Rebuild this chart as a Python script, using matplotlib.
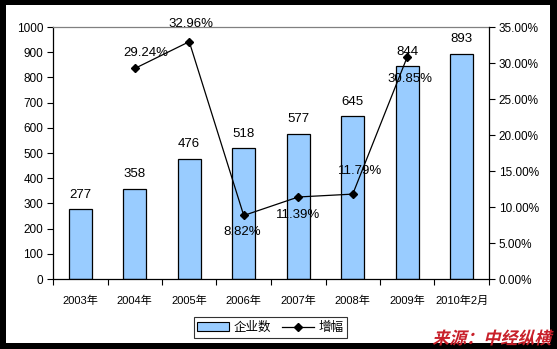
import numpy as np
import matplotlib
matplotlib.use("Agg")
import matplotlib.pyplot as plt
from matplotlib.patches import Rectangle, PathPatch
from matplotlib.textpath import TextPath
from matplotlib.font_manager import FontProperties
from matplotlib.transforms import Affine2D, IdentityTransform
from matplotlib.lines import Line2D
from matplotlib.ticker import FuncFormatter, FixedLocator

plt.rcParams['font.family'] = ['Liberation Sans', 'Noto Sans CJK SC', 'DejaVu Sans']

years = ["2003年", "2004年", "2005年", "2006年", "2007年", "2008年", "2009年", "2010年2月"]
companies = [277, 358, 476, 518, 577, 645, 844, 893]
growth = [np.nan, 29.24, 32.96, 8.82, 11.39, 11.79, 30.85, np.nan]  # percent

# offsets (points) for growth labels
growth_offsets = [None, (8, 11), (1, 13), (-1, -12), (0, -13), (5, 17), (2, -16), None]

W, H = 557, 349
fig = plt.figure(figsize=(W / 100, H / 100), dpi=100, facecolor="black")
fig.add_artist(Rectangle((6 / W, 1 - 343 / H), (550 - 6) / W, (343 - 5) / H,
                         transform=fig.transFigure, facecolor="white",
                         edgecolor="none", zorder=0))

ax = fig.add_axes([53 / W, 1 - 279 / H, (489 - 53) / W, (279 - 27) / H])
ax.set_facecolor("white")
ax.set_zorder(1)
x = np.arange(len(years))
bars = ax.bar(x, companies, width=0.42, color="#99CCFF", edgecolor="black",
              linewidth=0.9, zorder=2)
ax.set_xlim(-0.5, len(years) - 0.5)
ax.set_ylim(0, 1000)
ax.set_yticks(np.arange(0, 1001, 100))
ax.set_xticks(x)
ax.set_xticklabels(years, fontsize=8)
ax.xaxis.set_minor_locator(FixedLocator(np.arange(-0.5, len(years), 1)))
ax.tick_params(axis="x", which="major", length=0, pad=12)
ax.tick_params(axis="x", which="minor", length=4, direction="out", width=0.8)
ax.tick_params(axis="y", length=4, direction="out", width=0.8, labelsize=8.5, pad=3)
for s in ("left", "bottom"):
    ax.spines[s].set_color("black")
    ax.spines[s].set_linewidth(0.9)
ax.spines["top"].set_color("#808080")
ax.spines["top"].set_linewidth(0.9)
ax.spines["right"].set_visible(False)

for xi, v in zip(x, companies):
    ax.annotate(str(v), (xi, v), xytext=(0, 10.5), textcoords="offset points",
                ha="center", va="center", fontsize=9.5, zorder=5)

ax2 = ax.twinx()
ax2.set_ylim(0, 35)
ax2.set_yticks(np.arange(0, 35.01, 5))
ax2.yaxis.set_major_formatter(FuncFormatter(lambda v, p: f"{v:.2f}%"))
ax2.tick_params(axis="y", length=4, direction="out", width=0.8, labelsize=8.5, pad=3)
for s in ("left", "top", "bottom"):
    ax2.spines[s].set_visible(False)
ax2.spines["right"].set_color("black")
ax2.spines["right"].set_linewidth(0.9)
ax2.plot(x, growth, color="black", linewidth=0.9, marker="D", markersize=4,
         zorder=4)
for xi, g, off in zip(x, growth, growth_offsets):
    if off is None or np.isnan(g):
        continue
    ax2.annotate(f"{g:.2f}%", (xi, g), xytext=off, textcoords="offset points",
                 ha="center", va="center", fontsize=9.5, zorder=5)

handles = [Rectangle((0, 0), 1, 1, facecolor="#99CCFF", edgecolor="black", linewidth=0.8),
           Line2D([], [], color="black", marker="D", markersize=4, linewidth=0.9)]
leg = fig.legend(handles, ["企业数", "增幅"], loc="center",
                 bbox_to_anchor=(270.5 / W, 1 - 327.5 / H), ncol=2, frameon=True,
                 fancybox=False, edgecolor="black",
                 handlelength=2.5, handletextpad=0.4, columnspacing=0.9,
                 borderpad=0.3, prop={"family": ["Noto Sans CJK SC"], "size": 9})
leg.get_frame().set_linewidth(0.8)

# red source note, slanted
fp = FontProperties(family="Noto Sans CJK SC", weight="bold")
tp = TextPath((0, 0), "来源：中经纵横", size=17, prop=fp)
ext = tp.get_extents()
tr = (Affine2D().translate(-ext.x1, 0).skew_deg(14, 0)
      .translate(551, H - 344))
fig.add_artist(PathPatch(tp, transform=tr + IdentityTransform(),
                         facecolor="#C8202A", edgecolor="none", zorder=10))

fig.savefig("out.png", dpi=100, facecolor="black")
